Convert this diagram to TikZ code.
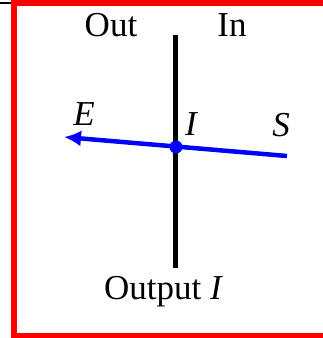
\documentclass[tikz,border=0pt]{standalone}
\usepackage{fontspec}
\setmainfont{Liberation Serif}
\usetikzlibrary{arrows.meta}

\begin{document}
\begin{tikzpicture}[x=1pt,y=-1pt,
    lbl/.style={font=\fontsize{35}{40}\selectfont, inner sep=0pt}]
    \useasboundingbox (0,0) rectangle (322,338);
    % frame
    \draw[red, line width=6pt] (335,3) -- (14,3) -- (14,336) -- (335,336);
    \draw[black, line width=2pt] (0,3) -- (11,3);
    % interface
    \coordinate (top) at (175.5,35);
    \coordinate (bot) at (175.5,268);
    \draw[black, line width=4.5pt] (top) -- (bot);
    % ray
    \coordinate (src) at (287,156);
    \coordinate (tip) at (64,137);
    \draw[blue, line width=4.5pt, -{Latex[length=17pt,width=16pt]}] (src) -- (tip);
    \fill[blue] (176,147) circle (6.5pt);
    % labels
    \node[lbl] (out) at (111,25) {Out};
    \node[lbl] (in) at (232,25) {In};
    \node[lbl] (E) at (84,114) {\itshape E};
    \node[lbl] (I) at (191,124) {\itshape I};
    \node[lbl] (S) at (281,125) {\itshape S};
    \node[lbl] (output) at (163,292) {Output \itshape I};
\end{tikzpicture}
\end{document}
